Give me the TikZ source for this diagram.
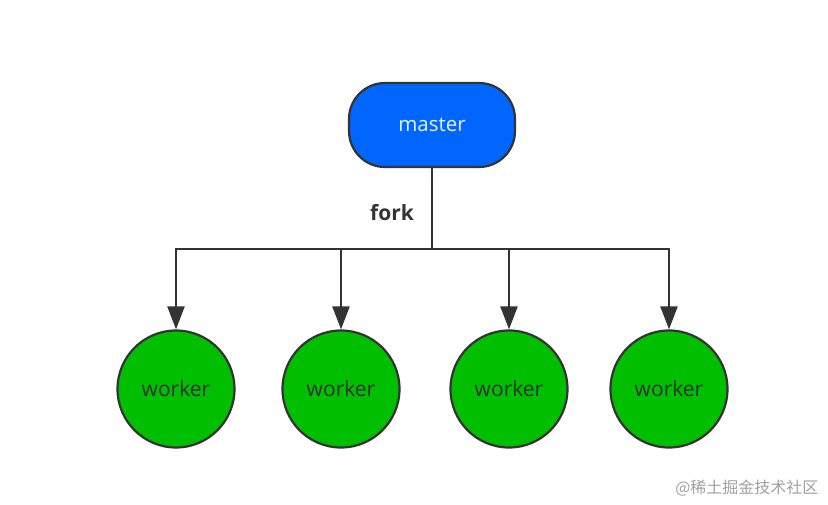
\documentclass[tikz,border=0pt]{standalone}
\usepackage{fontspec}
\setmainfont{Open Sans}
\newfontfamily\cjk{Noto Sans CJK SC}
\usetikzlibrary{arrows.meta}
\definecolor{mblue}{HTML}{0066FF}
\definecolor{wgreen}{HTML}{00BE00}
\definecolor{edge}{HTML}{333333}
\definecolor{mtext}{HTML}{E6F2FF}
\definecolor{wmark}{HTML}{A0A0A0}
\tikzset{
  masterbox/.style={draw=edge, line width=2.2pt, fill=mblue, rounded corners=36pt,
    minimum width=166pt, minimum height=84pt, inner sep=0pt,
    text=mtext, font=\fontsize{20.5}{24}\selectfont},
  workernode/.style={draw=edge, line width=2.2pt, fill=wgreen, circle,
    minimum size=117pt, inner sep=0pt, text=edge, font=\fontsize{21}{24}\selectfont},
  conn/.style={draw=edge, line width=2.2pt},
  arr/.style={conn, -{Triangle[length=23pt,width=17pt]}},
  lbl/.style={text=edge, font=\bfseries\fontsize{21}{24}\selectfont},
}
\begin{document}
\begin{tikzpicture}[x=1pt,y=-1pt]
\useasboundingbox (0,0) rectangle (828,504);
\node[masterbox] (master) at (432,125) {master};
\coordinate (bus) at (432,249);
\node[workernode] (w1) at (176,389) {worker};
\node[workernode] (w2) at (341,389) {worker};
\node[workernode] (w3) at (509,389) {worker};
\node[workernode] (w4) at (669,389) {worker};
\draw[conn] (master.south) -- (bus);
\draw[arr] (bus) -| (w1.north);
\draw[arr] (bus) -| (w2.north);
\draw[arr] (bus) -| (w3.north);
\draw[arr] (bus) -| (w4.north);
\node[lbl] (fork) at (392,213) {fork};
\node[text=wmark, font=\cjk\fontsize{16}{18}\selectfont, anchor=east] (wm) at (822,488) {@稀土掘金技术社区};
\end{tikzpicture}
\end{document}
